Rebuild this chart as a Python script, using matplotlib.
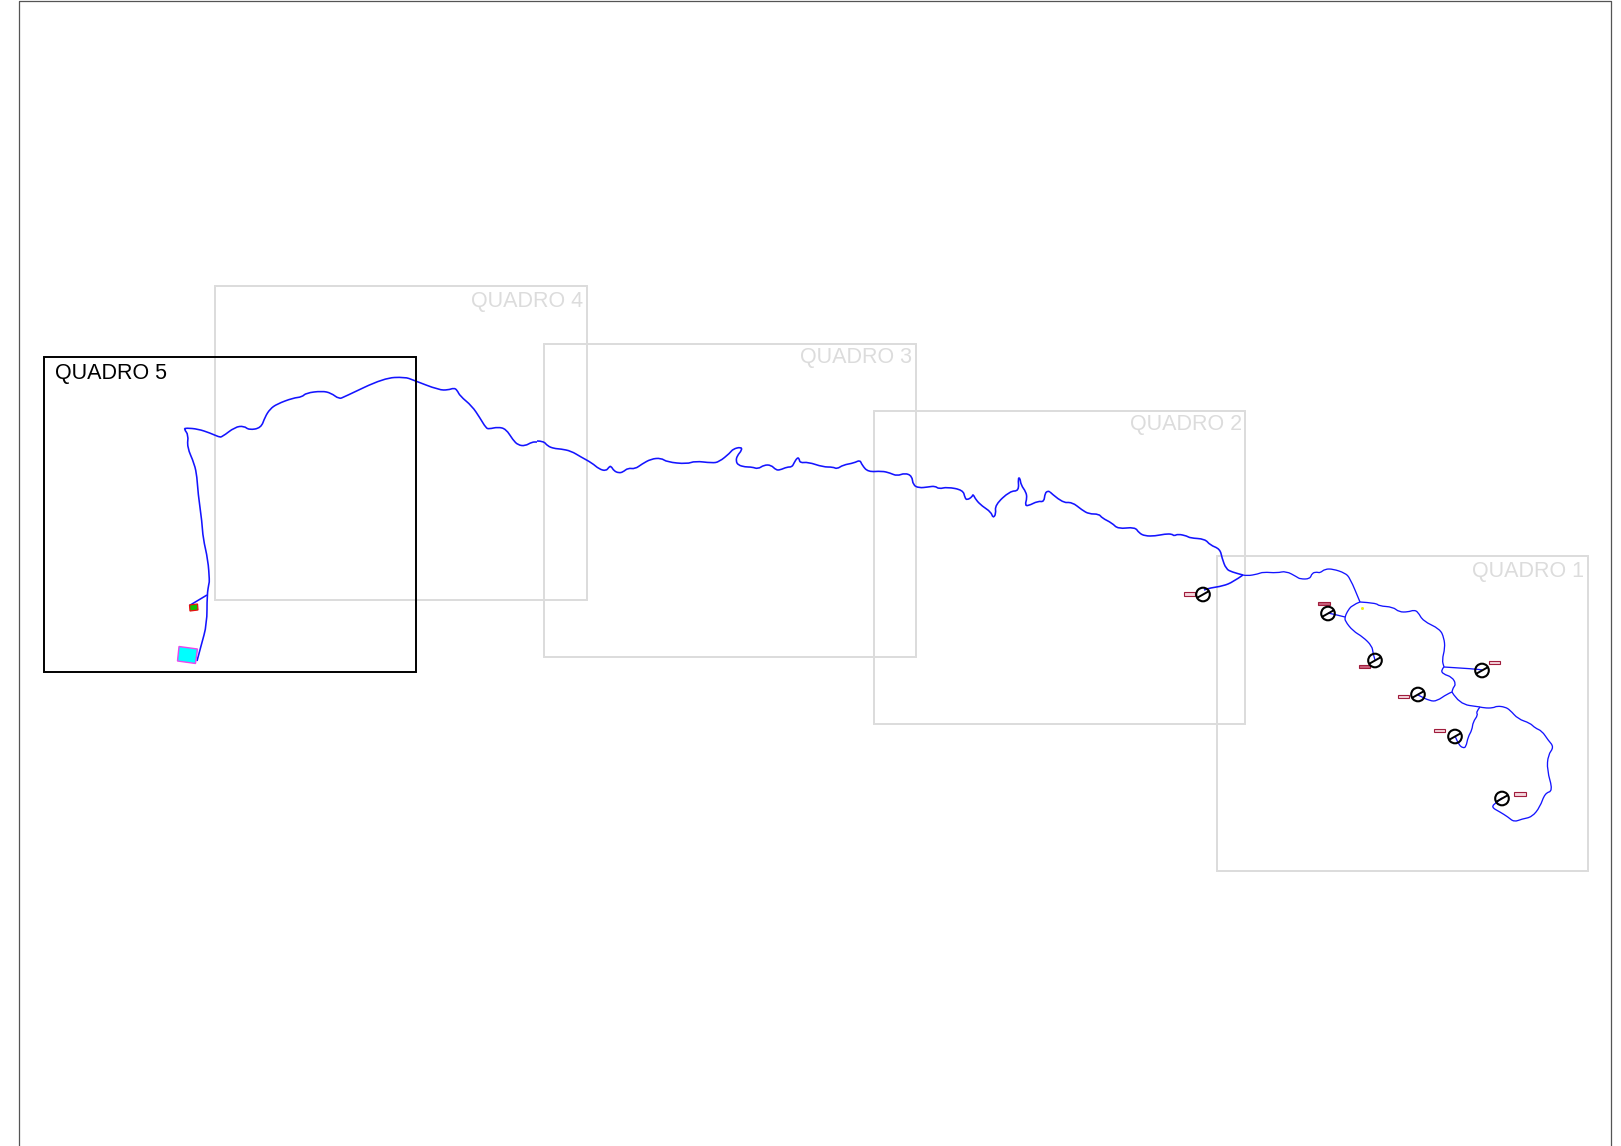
"""Mapa de quadros: rede de drenagem, quadros de articulação e estações."""

from __future__ import annotations

import matplotlib

matplotlib.use("Agg", force=True)
import matplotlib.pyplot as plt
from matplotlib.patches import Circle, PathPatch, Polygon, Rectangle
from matplotlib.path import Path

WIDTH, HEIGHT = 1621, 1146
BLUE = "#1414ff"
GREY = "#dcdcdc"

# (left, top, right, bottom) of each sheet, in picture pixels
SHEET_NAMES = ["QUADRO 1", "QUADRO 2", "QUADRO 3", "QUADRO 4", "QUADRO 5"]
SHEET_BOXES = [
    (1216.5, 556, 1588, 870.5),
    (873.5, 410.5, 1245, 724),
    (544, 343.5, 916, 657),
    (215, 286, 587, 600),
    (43.5, 357, 415.5, 671.5),
]
SHEET_LABEL_XY = [(1584, 571), (1242, 424.5), (912, 358), (583, 301), (55, 373)]

# River reaches (x, y)
WEST_REACH = [
    (197, 661), (201, 646), (207, 624), (207, 595), (209, 583), (209.5, 581),
    (208, 560), (203, 538), (202, 522), (198, 493), (197, 477), (194.5, 464),
    (187, 447), (188.5, 435), (184, 429), (186, 428), (198, 429), (210, 433),
    (219, 437), (222, 437), (235, 427), (244, 426), (249, 430), (261, 428),
    (265, 417), (270, 409), (277, 404), (293, 398), (302, 397), (306, 393),
    (322, 391), (331, 393), (339, 399), (344, 397), (384, 378), (405, 377),
    (413, 380), (439, 390), (448, 390), (454, 388), (457, 390), (460, 396),
    (472, 406), (480, 418), (486, 428), (489, 429), (498, 427), (506, 429),
    (513, 440), (518, 445), (525, 446), (532, 442), (537, 442),
]
MIDDLE_REACH = [
    (537, 441), (543.5, 441), (547.5, 446), (554, 448.5), (561, 449),
    (571, 451), (581, 457), (592, 463), (599, 469), (606, 471),
    (609, 467), (611, 466), (614, 471), (619, 473), (623, 472),
    (628, 468), (635, 469), (642, 464), (651, 459), (661, 458), (667, 462),
    (687, 464), (695, 461), (712, 463), (719, 462), (730, 453), (733, 449),
    (741, 447), (742, 450), (737, 456), (736, 461), (738, 465), (745, 467),
    (752, 467), (758, 469), (764, 465), (771, 465), (776, 470), (780, 470),
    (787, 467), (792, 467), (794, 463), (797, 458), (799, 458), (800, 463),
    (808, 462), (823, 467), (833, 467), (837, 469), (843, 465), (854, 463),
    (860, 460), (862, 465), (868, 472), (882, 471), (890, 473), (897, 476),
    (905, 473), (912, 476), (913, 485), (919, 488), (928, 487), (935, 486),
    (939, 489), (947, 487), (963, 490), (965, 498), (967, 500), (972, 497),
    (973, 494), (976, 500), (982, 506), (991, 512), (993, 518), (996, 514),
    (995, 505), (1010, 491), (1019, 491), (1018, 478), (1020, 478),
    (1021, 485), (1026, 492), (1027, 498), (1025, 505), (1028, 506),
    (1038, 501), (1044, 502), (1045, 493), (1048, 491), (1050, 492),
]
EAST_REACH = [
    (1050, 492), (1062, 503), (1072, 502), (1082, 510), (1089, 514),
    (1099, 514), (1102, 518), (1112, 523), (1118, 529), (1135, 527),
    (1139, 533), (1145, 536), (1155, 536), (1165, 534), (1172, 534),
    (1174, 536), (1178, 534), (1187, 536), (1190, 538), (1205, 539),
    (1210, 545), (1220, 549), (1222, 558), (1226, 569), (1232, 572),
    (1243, 575),
]
HEAD_REACH = [
    (1243, 575), (1247, 576), (1258, 574), (1263, 572), (1277, 573),
    (1286, 571), (1297, 577), (1300, 579), (1310, 579), (1312, 573),
    (1317, 572), (1320, 573), (1325, 569), (1333, 569), (1345, 573),
    (1350, 578), (1360, 602),
]
GAUGE_1_BRANCH = [
    (1243, 575), (1233, 582), (1223, 586), (1210, 588), (1204, 590),
]
UPPER_RING = [
    (1360, 602), (1352, 605), (1347, 612), (1345, 617), (1345, 621),
    (1353, 631), (1363, 637), (1372, 646), (1373, 653), (1375, 660),
]
GAUGE_2_BRANCH = [(1345, 617), (1337, 615), (1328, 613)]
RING_TO_GAUGE_4 = [
    (1360, 602), (1376, 603), (1379, 606), (1393, 607), (1399, 612),
    (1408, 612), (1414, 610), (1418, 612), (1423, 621), (1440, 629),
    (1444, 638), (1445, 648), (1442, 660), (1444, 667),
]
GAUGE_4_BRANCH = [(1444, 667), (1476, 669), (1482, 670)]
RING_SOUTH = [
    (1444, 667), (1441, 670), (1443, 674), (1452, 677), (1456, 684),
    (1453, 688), (1452, 692),
]
GAUGE_5_BRANCH = [
    (1452, 692), (1447, 694), (1437, 701), (1430, 701), (1418, 695),
]
RING_TO_FORK = [(1452, 692), (1459, 704), (1480, 707)]
GAUGE_6_BRANCH = [
    (1480, 707), (1476, 712), (1478, 715), (1473, 722), (1472, 730),
    (1468, 737), (1466, 747), (1463, 748), (1459, 745), (1455, 736),
]
LOOP_TO_GAUGE_7 = [
    (1480, 707), (1484, 708), (1493, 708), (1497, 706), (1505, 707),
    (1510, 710), (1518, 719), (1530, 723), (1535, 728), (1542, 731),
    (1548, 740), (1554, 747), (1548, 755), (1547, 770), (1553, 791),
    (1545, 793), (1540, 807), (1532, 817), (1522, 819), (1514, 822),
    (1508, 817), (1500, 812), (1491, 807), (1497, 802), (1502, 798),
]
FEEDER = [(207, 595), (189.5, 605.5)]
REACHES_THICK = [WEST_REACH, MIDDLE_REACH, EAST_REACH, GAUGE_1_BRANCH, FEEDER]
REACHES_THIN = [
    HEAD_REACH, UPPER_RING, GAUGE_2_BRANCH, RING_TO_GAUGE_4, GAUGE_4_BRANCH,
    RING_SOUTH, GAUGE_5_BRANCH, RING_TO_FORK, GAUGE_6_BRANCH, LOOP_TO_GAUGE_7,
]

GAUGE_CENTRES = [
    (1203, 594.5), (1328, 613.5), (1375, 660.5), (1482, 670.5), (1418, 694.5),
    (1455, 736.5), (1502, 798.5),
]
# (left, top) of the small tag next to each gauge and its fill
GAUGE_TAGS = [
    (1183.5, 592, "#f4d6dc"), (1318, 601.5, "#c8607c"), (1358.5, 664.5, "#c8607c"),
    (1488.5, 660.5, "#f4d6dc"), (1433.5, 728.5, "#f4d6dc"), (1397.5, 694.5, "#f4d6dc"),
    (1514, 792, "#f4d6dc"),
]
YELLOW_SPECK = (1362, 608)

RESERVOIR = [(179, 646.5), (197.5, 649), (195.5, 663.5), (177.5, 661)]
INTAKE = [(189.5, 605), (197.5, 604), (198, 610), (190, 611)]


def rounded_path(points) -> Path:
    """Curva quadrática pelos pontos médios, sem cantos vivos."""
    verts = [points[0]]
    codes = [Path.MOVETO]
    for (x0, y0), (x1, y1) in zip(points[1:-1], points[2:]):
        verts += [(x0, y0), ((x0 + x1) / 2, (y0 + y1) / 2)]
        codes += [Path.CURVE3, Path.CURVE3]
    verts.append(points[-1])
    codes.append(Path.LINETO)
    return Path(verts, codes)


def draw_sheets(ax) -> None:
    """Quadros cinza e o quadro 5 ativo em preto."""
    for name, box, xy in zip(SHEET_NAMES, SHEET_BOXES, SHEET_LABEL_XY):
        active = name == "QUADRO 5"
        color = "black" if active else GREY
        left, top, right, bottom = box
        ax.add_patch(
            Rectangle(
                (left, top), right - left, bottom - top,
                fill=False, edgecolor=color, linewidth=1.4,
                zorder=3 if active else 1,
            )
        )
        ax.text(
            xy[0], xy[1], name, color=color, fontsize=15.5,
            family="Liberation Sans", va="center",
            ha="left" if active else "right", zorder=3,
        )


def draw_gauges(ax) -> None:
    """Estações: círculo cortado na diagonal e etiqueta vermelha."""
    for (cx, cy), (tag_x, tag_y, tag_color) in zip(GAUGE_CENTRES, GAUGE_TAGS):
        ax.add_patch(Rectangle((tag_x, tag_y), 11.5, 3.6, facecolor=tag_color,
                               edgecolor="#a01c3c", linewidth=0.8, zorder=4))
        ax.add_patch(Circle((cx, cy), 6.8, fill=False, edgecolor="black",
                            linewidth=1.5, zorder=5))
        ax.plot([cx - 6, cx + 6], [cy + 3.4, cy - 3.4], color="black",
                linewidth=1.4, solid_capstyle="butt", zorder=5)


def main() -> None:
    fig = plt.figure(figsize=(WIDTH / 100, HEIGHT / 100), dpi=100)
    ax = fig.add_axes([0, 0, 1, 1])
    ax.set_xlim(0, WIDTH)
    ax.set_ylim(HEIGHT, 0)
    ax.axis("off")

    # page frame runs off the bottom of the sheet
    ax.plot([19.2, 19.2, 1611, 1611], [HEIGHT + 5, 1, 1, HEIGHT + 5],
            color="#555555", linewidth=0.9, zorder=1)

    draw_sheets(ax)

    for reach in REACHES_THICK:
        ax.add_patch(PathPatch(rounded_path(reach), fill=False, edgecolor=BLUE,
                               linewidth=1.15, zorder=2))
    for reach in REACHES_THIN:
        ax.add_patch(PathPatch(rounded_path(reach), fill=False, edgecolor=BLUE,
                               linewidth=0.95, zorder=2))

    ax.add_patch(Polygon(RESERVOIR, facecolor="#00ffff", edgecolor="#ee44ee",
                         linewidth=1.0, zorder=4))
    ax.add_patch(Polygon(INTAKE, facecolor="#10c000", edgecolor="#e81010",
                         linewidth=0.9, zorder=4))
    ax.plot(*YELLOW_SPECK, marker="s", markersize=1, color="#f0f000", zorder=2)
    draw_gauges(ax)

    fig.savefig("out.png", dpi=100)
    plt.close(fig)


if __name__ == "__main__":
    main()
